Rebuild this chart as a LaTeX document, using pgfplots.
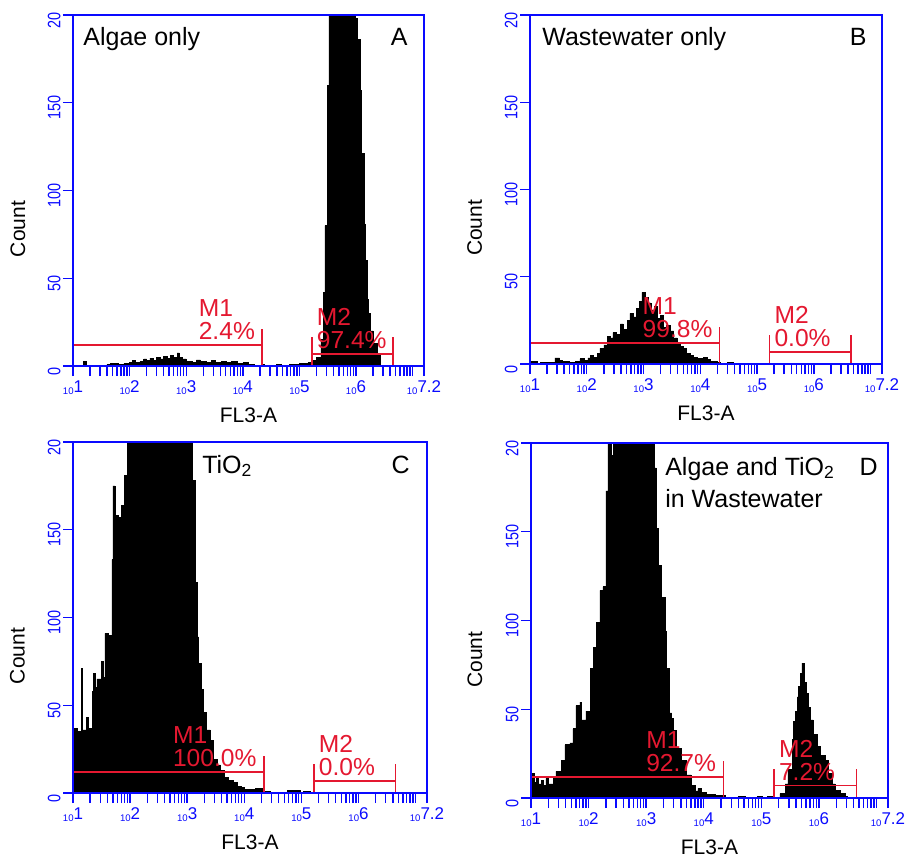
\documentclass[border=0pt]{standalone}
\usepackage{fontspec}
\setmainfont{Liberation Sans}
\usepackage{pgfplots}
\pgfplotsset{compat=1.18}

\definecolor{axblue}{RGB}{10,10,255}
\definecolor{gatered}{RGB}{228,24,48}

% FACS-style tick labels: small "10" followed by the exponent
\newcommand{\xl}[1]{{\fontsize{4.8}{5}\selectfont 10}\raisebox{1pt}{\fontsize{8.5}{9}\selectfont #1}}
\newcommand{\yl}[1]{\scalebox{0.8}[1]{\fontsize{9}{9}\selectfont #1}}

\pgfplotsset{
  facs/.style={
    scale only axis,
    xmin=1, xmax=7.2, ymin=0, ymax=200,
    axis on top,
    axis line style={axblue, line width=0.8pt},
    xtick={1,2,3,4,5,6,7.2},
    xticklabels={\xl{1},\xl{2},\xl{3},\xl{4},\xl{5},\xl{6},\xl{7.2}},
    minor xtick={1.301,1.477,1.602,1.699,1.778,1.845,1.903,1.954,
                 2.301,2.477,2.602,2.699,2.778,2.845,2.903,2.954,
                 3.301,3.477,3.602,3.699,3.778,3.845,3.903,3.954,
                 4.301,4.477,4.602,4.699,4.778,4.845,4.903,4.954,
                 5.301,5.477,5.602,5.699,5.778,5.845,5.903,5.954,
                 6.301,6.477,6.602,6.699,6.778,6.845,6.903,6.954,7},
    ytick={0,50,100,150,200},
    yticklabels={\yl{0},\yl{50},\yl{100},\yl{150},\yl{20}},
    xtick pos=left, ytick pos=left,
    tick align=outside,
    major tick length=5pt, minor tick length=5pt,
    tick style={axblue, line width=0.7pt},
    every tick label/.append style={text=axblue, inner sep=1pt},
    xticklabel style={yshift=-1pt},
    yticklabel style={rotate=90, anchor=south, xshift=-2.5pt},
    xlabel={FL3-A}, ylabel={Count},
    label style={font=\fontsize{10.5}{11}\selectfont},
    xlabel style={at={(axis description cs:0.5,-0.14)}, anchor=center},
    ylabel style={at={(axis description cs:-0.157,0.39)}, anchor=center},
  },
  histo/.style={const plot mark left, fill=black, draw=black, line width=0.3pt, mark=none},
  gateline/.style={gatered, line width=0.8pt, mark=none},
}
\tikzset{
  gatelabel/.style={text=gatered, inner sep=0pt, font=\fontsize{12.3}{12}\selectfont},
  ptitle/.style={inner sep=0pt, font=\fontsize{12.5}{13}\selectfont},
}

\newcommand{\gates}[2]{%
  \addplot[gateline] coordinates {(1,12) (4.34,12)};
  \addplot[gateline] coordinates {(4.34,0) (4.34,21)};
  \addplot[gateline] coordinates {(5.22,7) (6.65,7)};
  \addplot[gateline] coordinates {(5.22,0) (5.22,16.5)};
  \addplot[gateline] coordinates {(6.65,0) (6.65,16.5)};
  \node[gatelabel, anchor=base east] (p1) at (axis cs:4.22,15) {#1};
  \node[gatelabel, anchor=base west] at ([yshift=11.5pt]p1.base west) {M1};
  \node[gatelabel, anchor=base west] (p2) at (axis cs:5.30,10) {#2};
  \node[gatelabel, anchor=base west] at ([yshift=11.5pt]p2.base west) {M2};
}

\begin{document}
\begin{tikzpicture}
\useasboundingbox (0,0) rectangle (454.5pt,-429.5pt);

% ---------------- A: algae only
\begin{axis}[facs, at={(36.5pt,-7.5pt)}, anchor=north west, width=175.5pt, height=175.5pt]
\addplot[histo] coordinates {
 (1.00,0) (1.18,2.5) (1.24,0) (1.60,1) (1.66,1.5) (1.80,1) (1.90,1.5) (2.00,2)
 (2.05,3) (2.10,2) (2.18,2.5) (2.25,4) (2.30,3) (2.36,4.5) (2.42,3) (2.48,5)
 (2.55,4) (2.60,5.5) (2.66,4.5) (2.72,6) (2.78,5) (2.84,7.5) (2.88,5) (2.93,4)
 (3.00,2.5) (3.10,2) (3.18,3.5) (3.25,2.5) (3.35,2) (3.45,3) (3.52,2) (3.62,2.5)
 (3.70,2) (3.80,2.5) (3.90,1.5) (4.00,2) (4.10,1) (4.20,0.5) (4.33,1) (4.38,0)
 (4.60,1) (4.68,0) (4.82,1) (5.00,1.5) (5.15,2) (5.22,3) (5.30,5) (5.38,15)
 (5.42,42) (5.45,80) (5.49,160) (5.52,260) (5.60,400) (5.95,300) (5.98,198)
 (6.03,186) (6.07,157) (6.10,121) (6.14,81) (6.16,60) (6.19,38) (6.21,30)
 (6.25,20) (6.30,13) (6.37,6) (6.42,0) (7.20,0)
} \closedcycle;
\gates{2.4\%}{97.4\%}
\node[ptitle, anchor=base west, xshift=5pt, yshift=-15pt] at (rel axis cs:0,1) {Algae only};
\node[ptitle, anchor=base east, xshift=-8pt, yshift=-15pt] at (rel axis cs:1,1) {A};
\end{axis}

% ---------------- B: wastewater only
\begin{axis}[facs, at={(265pt,-7.5pt)}, anchor=north west, width=176pt, height=174.5pt]
\addplot[histo] coordinates {
 (1.00,1.5) (1.12,0) (1.18,1) (1.44,3.5) (1.52,2) (1.56,1.5) (1.70,1) (1.80,1.5)
 (1.88,3) (1.95,2) (2.02,3.5) (2.06,5) (2.12,4) (2.18,6) (2.23,9) (2.30,11)
 (2.36,16) (2.42,15) (2.46,18) (2.52,17) (2.59,23) (2.64,20) (2.71,25) (2.76,29)
 (2.82,27) (2.88,32) (2.93,36) (2.97,41) (3.03,38) (3.08,35) (3.13,31) (3.19,33)
 (3.24,26) (3.29,28) (3.34,21) (3.40,22) (3.47,19) (3.53,15) (3.59,12) (3.65,10)
 (3.70,9) (3.76,6) (3.82,5) (3.88,4) (3.94,3) (4.05,4) (4.12,2.5) (4.17,1.5)
 (4.30,1) (4.35,0) (4.47,1) (4.58,0) (7.20,0)
} \closedcycle;
\gates{99.8\%}{0.0\%}
\node[ptitle, anchor=base west, xshift=6pt, yshift=-15pt] at (rel axis cs:0,1) {Wastewater only};
\node[ptitle, anchor=base east, xshift=-7.5pt, yshift=-15pt] at (rel axis cs:1,1) {B};
\end{axis}

% ---------------- C: TiO2
\begin{axis}[facs, at={(36.5pt,-221pt)}, anchor=north west, width=177pt, height=175.5pt]
\addplot[histo] coordinates {
 (1.000,37) (1.070,35) (1.150,71) (1.170,36) (1.240,43) (1.260,37) (1.333,58)
 (1.360,68) (1.385,60) (1.420,65) (1.500,75) (1.525,66) (1.560,91) (1.613,90)
 (1.683,133) (1.700,175) (1.735,126) (1.760,158) (1.790,123) (1.810,157)
 (1.850,164) (1.900,181) (1.950,300) (3.084,178) (3.137,120) (3.172,89)
 (3.200,74) (3.240,59) (3.280,46) (3.340,36) (3.400,30) (3.450,19) (3.520,16)
 (3.580,13) (3.650,9) (3.720,7) (3.800,6) (3.870,4) (3.950,3) (4.000,2)
 (4.200,2.5) (4.330,1) (4.450,0) (4.750,1.5) (4.980,0) (5.030,1) (5.150,0)
 (7.200,0)
} \closedcycle;
\gates{100.0\%}{0.0\%}
\node[ptitle, anchor=base west, yshift=-15.5pt] at (rel axis cs:0.364,1) {TiO\textsubscript{2}};
\node[ptitle, anchor=base east, xshift=-8.5pt, yshift=-15.5pt] at (rel axis cs:1,1) {C};
\end{axis}

% ---------------- D: algae and TiO2 in wastewater
\begin{axis}[facs, at={(265.5pt,-221.5pt)}, anchor=north west, width=178.5pt, height=177.5pt]
\addplot[histo] coordinates {
 (1.000,10) (1.030,14) (1.060,9) (1.090,12) (1.120,8) (1.174,10) (1.220,7)
 (1.260,11) (1.300,8) (1.382,12) (1.434,15) (1.521,21) (1.590,30) (1.677,31)
 (1.729,39) (1.780,52) (1.850,54) (1.868,44) (1.955,49) (2.025,73) (2.077,85)
 (2.129,99) (2.198,117) (2.250,119) (2.300,173) (2.337,260) (2.389,193)
 (2.424,300) (3.136,186) (3.171,152) (3.206,131) (3.258,113) (3.327,94)
 (3.345,73) (3.400,48) (3.440,45) (3.466,38) (3.518,28) (3.605,21) (3.692,13)
 (3.779,7) (3.848,4) (3.900,5.5) (3.952,3) (4.050,2) (4.196,1.5) (4.369,0)
 (4.595,1) (4.717,0) (4.925,1) (5.010,0) (5.100,1) (5.200,0.5) (5.324,2.5)
 (5.411,8) (5.463,16) (5.533,33) (5.550,43) (5.585,49) (5.620,57) (5.637,63)
 (5.672,70) (5.706,76) (5.741,65) (5.776,59) (5.811,51) (5.845,44) (5.898,36)
 (5.967,29) (6.019,24) (6.106,21) (6.158,14) (6.228,8) (6.280,4.5) (6.367,2.8)
 (6.453,1) (6.488,0) (7.200,0)
} \closedcycle;
\gates{92.7\%}{7.2\%}
\node[ptitle, anchor=base west, yshift=-16pt] at (rel axis cs:0.375,1) {Algae and TiO\textsubscript{2}};
\node[ptitle, anchor=base west, yshift=-32pt] at (rel axis cs:0.375,1) {in Wastewater};
\node[ptitle, anchor=base east, xshift=-5pt, yshift=-16pt] at (rel axis cs:1,1) {D};
\end{axis}
\end{tikzpicture}
\end{document}
